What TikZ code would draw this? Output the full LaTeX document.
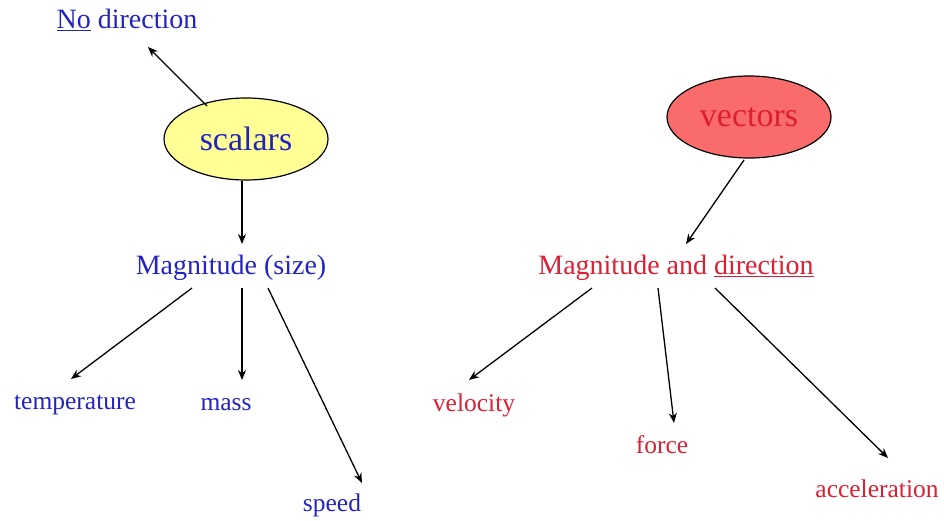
\documentclass[tikz,border=0pt]{standalone}
\usepackage{fontspec}
\setmainfont{Liberation Serif}
\usetikzlibrary{arrows.meta,shapes.geometric}
\definecolor{sblue}{RGB}{35,35,195}
\definecolor{vred}{RGB}{222,30,50}
\definecolor{yfill}{RGB}{255,255,150}
\definecolor{rfill}{RGB}{250,108,108}
\tikzset{
  lbl/.style={inner sep=0pt, anchor=center},
  big/.style={font=\fontsize{28}{30}\selectfont},
  small/.style={font=\fontsize{25.5}{28}\selectfont},
  oval/.style={ellipse, draw=black, line width=1.2pt, minimum width=164pt, minimum height=82pt, inner sep=0pt, font=\fontsize{34}{36}\selectfont},
  arr/.style={-{Stealth[length=10pt,width=8pt]}, line width=1.3pt, black},
}
\begin{document}
\begin{tikzpicture}[x=1pt,y=-1pt]
\useasboundingbox (0,0) rectangle (944,520);
% nodes
\node[lbl, big, text=sblue] (nodir) at (127,20) {\underline{No} direction};
\node[oval, fill=yfill, text=sblue] (sc) at (246,139) {scalars};
\node[lbl, big, text=sblue] (mag) at (231,268) {Magnitude (size)};
\node[lbl, small, text=sblue] (temp) at (75,405) {temperature};
\node[lbl, small, text=sblue] (mass) at (226,405) {mass};
\node[lbl, small, text=sblue] (speed) at (332,505) {speed};
\node[oval, fill=rfill, text=vred] (vec) at (749,117) {vectors};
\node[lbl, big, text=vred] (magdir) at (676,268) {Magnitude and \underline{direction}};
\node[lbl, small, text=vred] (vel) at (474,405) {velocity};
\node[lbl, small, text=vred] (force) at (662,445) {force};
\node[lbl, small, text=vred] (acc) at (877,489) {acceleration};
% connector end points
\coordinate (s0) at (207,106);
\coordinate (e0) at (148,47);
\coordinate (s1) at (242,181);
\coordinate (e1) at (242,244);
\coordinate (s2) at (744,160);
\coordinate (e2) at (686,244);
\coordinate (t0) at (192,288);
\coordinate (t1) at (71,379);
\coordinate (m0) at (242,288);
\coordinate (m1) at (242,380);
\coordinate (p0) at (268,288);
\coordinate (p1) at (362,483);
\coordinate (v0) at (592,288);
\coordinate (v1) at (469,380);
\coordinate (f0) at (658,288);
\coordinate (f1) at (674,423);
\coordinate (a0) at (715,288);
\coordinate (a1) at (888,458);
% connectors
\draw[arr] (s0) -- (e0);
\draw[arr] (s1) -- (e1);
\draw[arr] (s2) -- (e2);
\draw[arr] (t0) -- (t1);
\draw[arr] (m0) -- (m1);
\draw[arr] (p0) -- (p1);
\draw[arr] (v0) -- (v1);
\draw[arr] (f0) -- (f1);
\draw[arr] (a0) -- (a1);
\end{tikzpicture}
\end{document}
